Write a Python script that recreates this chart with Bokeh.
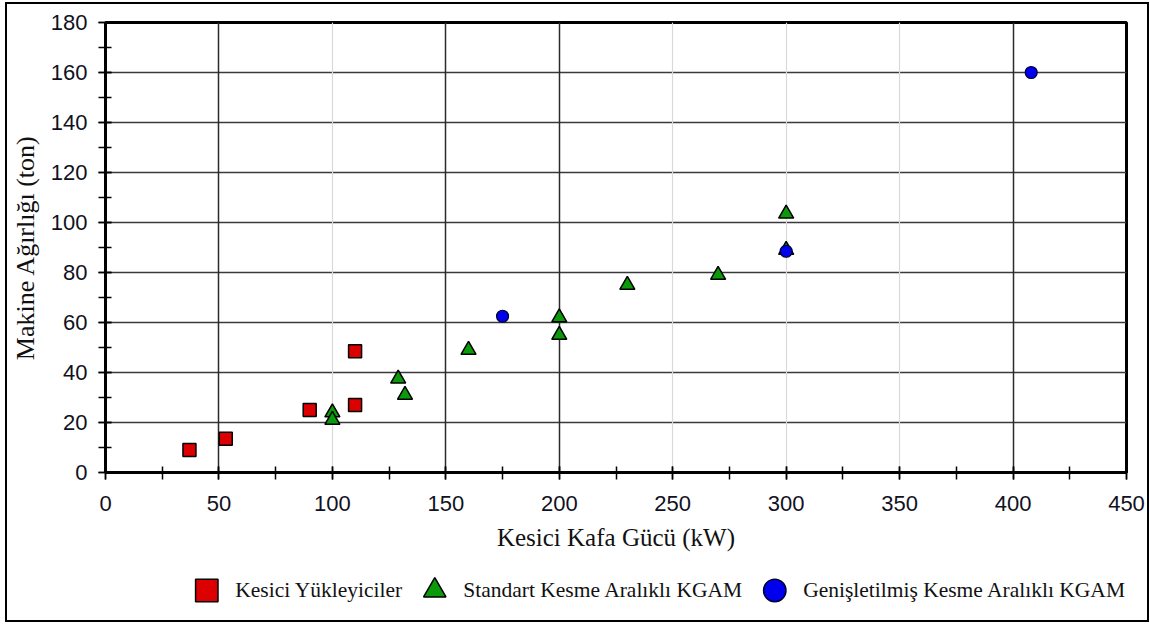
from bokeh.plotting import figure
from bokeh.layouts import column
from bokeh.models import (SingleIntervalTicker, FixedTicker, Grid, Legend, LegendItem, Range1d)
from bokeh.embed import file_html
from bokeh.resources import INLINE

# Data
kesici_x = [37, 53, 90, 110, 110]
kesici_y = [9, 13.5, 25, 27, 48.5]
standart_x = [100, 100, 129, 132, 160, 200, 200, 230, 270, 300, 300]
standart_y = [24, 21, 37.5, 31, 49, 62, 55, 75, 79, 103.5, 89]
genis_x = [175, 300, 408]
genis_y = [62.5, 88.5, 160]

series_labels = ["Kesici Yükleyiciler", "Standart Kesme Aralıklı KGAM",
                 "Genişletilmiş Kesme Aralıklı KGAM"]
x_label = "Kesici Kafa Gücü (kW)"
y_label = "Makine Ağırlığı (ton)"

series_x = [kesici_x, standart_x, genis_x]
series_y = [kesici_y, standart_y, genis_y]
styles = [
    dict(marker="square", fill_color="#dd0000", line_color="black"),
    dict(marker="triangle", fill_color="#0a9a0a", line_color="black"),
    dict(marker="circle", fill_color="#0000ee", line_color="#000033"),
]

p = figure(width=1140, height=555, output_backend="svg", toolbar_location=None,
           x_range=Range1d(0, 450), y_range=Range1d(0, 180),
           min_border_left=96, min_border_right=21, min_border_top=18,
           min_border_bottom=87)

p.outline_line_color = "black"
p.outline_line_width = 3
p.background_fill_color = "white"
p.border_fill_color = "white"

# axes
p.xaxis.ticker = SingleIntervalTicker(interval=50, num_minor_ticks=2)
p.yaxis.ticker = SingleIntervalTicker(interval=20, num_minor_ticks=2)
for ax in (p.xaxis[0], p.yaxis[0]):
    ax.axis_line_color = "black"
    ax.axis_line_width = 1.5
    ax.major_tick_in = 6
    ax.major_tick_out = 7
    ax.minor_tick_in = 6
    ax.minor_tick_out = 7
    ax.major_tick_line_color = "black"
    ax.minor_tick_line_color = "black"
    ax.major_tick_line_width = 1.5
    ax.minor_tick_line_width = 1.5
    ax.major_label_text_font = "Liberation Sans"
    ax.major_label_text_font_size = "22px"
    ax.major_label_text_color = "#111122"
    ax.axis_label_text_font = "Liberation Serif"
    ax.axis_label_text_font_style = "normal"
    ax.axis_label_text_color = "#111111"
p.xaxis.major_label_standoff = 16
p.yaxis.major_label_standoff = 11
p.xaxis.axis_label = x_label
p.yaxis.axis_label = y_label
p.xaxis.axis_label_text_font_size = "25px"
p.yaxis.axis_label_text_font_size = "26px"
p.xaxis.axis_label_standoff = 10
p.yaxis.axis_label_standoff = 8

# grids
p.xgrid.visible = False
p.ygrid.grid_line_color = "#3a3a3a"
p.ygrid.grid_line_width = 1.5
p.add_layout(Grid(dimension=0, ticker=FixedTicker(ticks=[100, 250, 300, 350]),
                  grid_line_color="#d9d9d9", grid_line_width=1.2))
p.add_layout(Grid(dimension=0, ticker=FixedTicker(ticks=[50, 150, 200, 400]),
                  grid_line_color="#2a2a2a", grid_line_width=1.5))

p.scatter(kesici_x, kesici_y, size=13, line_width=1.5, **styles[0])
p.scatter(standart_x, standart_y, size=15, line_width=1.5, **styles[1])
p.scatter(genis_x, genis_y, size=12, line_width=1.2, **styles[2])

# legend strip below the chart: same series, ranges chosen so that only the
# legend (not the points) is visible in this strip
lf = figure(width=1140, height=61, output_backend="svg", toolbar_location=None,
            x_range=Range1d(0, 450), y_range=Range1d(-2, -1),
            x_axis_location=None, y_axis_location=None,
            min_border_left=0, min_border_right=0, min_border_top=0,
            min_border_bottom=0)
lf.outline_line_color = None
lf.xgrid.visible = False
lf.ygrid.visible = False
items = []
for lab, sx, sy, st in zip(series_labels, series_x, series_y, styles):
    r = lf.scatter(sx, sy, line_width=1.5, **st)
    items.append(LegendItem(label=lab, renderers=[r]))
legend = Legend(items=items, orientation="horizontal", location="right",
                glyph_width=56, glyph_height=61, label_standoff=1, spacing=4,
                padding=0, margin=1,
                label_text_font="Liberation Serif", label_text_font_size="21.5px",
                label_text_color="#111111",
                border_line_alpha=0, background_fill_alpha=0)
lf.add_layout(legend)

layout = column(p, lf, spacing=0,
                styles={"border": "2px solid black", "margin-left": "5px",
                        "margin-top": "2px"})

open("out.html", "w").write(file_html(layout, INLINE))
